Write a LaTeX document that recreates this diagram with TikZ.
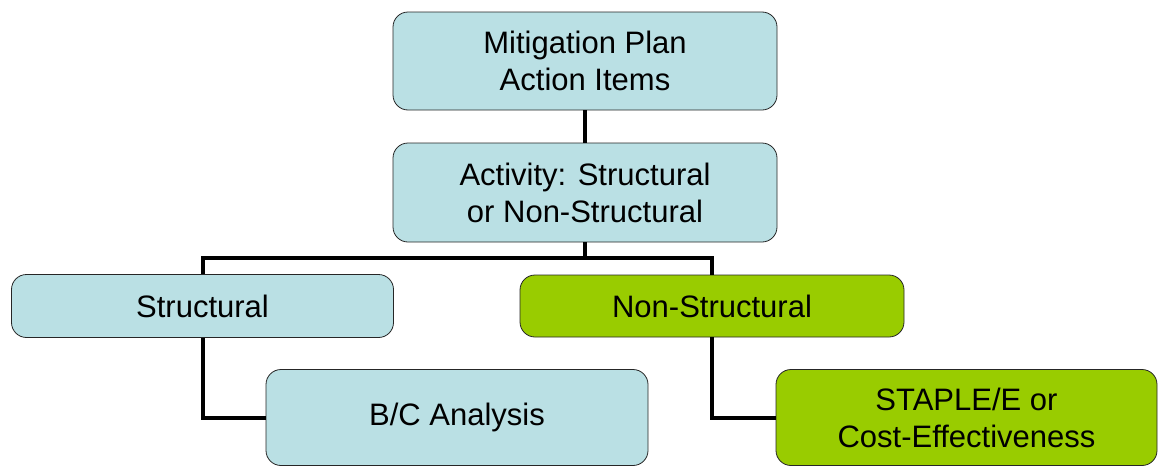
\documentclass[tikz,border=0pt]{standalone}
\usepackage{fontspec}
\setmainfont{Liberation Sans}
\usetikzlibrary{positioning}
\definecolor{boxblue}{RGB}{186,224,228}
\definecolor{boxgreen}{RGB}{153,204,0}
\begin{document}
\begin{tikzpicture}[
x=1pt,y=-1pt,
item/.style={
  draw=black!85,
  line width=0.8pt,
  rounded corners=15pt,
  fill=boxblue,
  align=center,
  inner sep=0pt,
  font=\fontsize{31}{37}\selectfont
},
greenitem/.style={
  item,
  fill=boxgreen
},
conn/.style={
  line width=4pt,
  black
}
]
\useasboundingbox (0,0) rectangle (1158,466);
\node[item,minimum width=384pt,minimum height=98pt] at (585,61)
  (plan) {Mitigation Plan\\Action Items};
\node[item,minimum width=384pt,minimum height=99pt] at (585,192.5)
  (activity) {Activity: Structural\\or Non-Structural};
\node[item,minimum width=382pt,minimum height=63pt] at (202.5,306)
  (struct) {Structural};
\node[greenitem,minimum width=384pt,minimum height=62pt] at (712,306)
  (nonstruct) {Non-Structural};
\node[item,minimum width=382pt,minimum height=96pt] at (457,417.5)
  (bc) {B/C Analysis};
\node[greenitem,minimum width=381pt,minimum height=96pt] at (966.5,417.5)
  (staple) {STAPLE/E or\\Cost-Effectiveness};
\coordinate (split) at (585,258);

\draw[conn] (plan.south) -- (activity.north);
\draw[conn] (activity.south) -- (split) -| (struct.north);
\draw[conn] (split) -| (nonstruct.north);
\draw[conn] (struct.south) |- (bc.west);
\draw[conn] (nonstruct.south) |- (staple.west);
\end{tikzpicture}
\end{document}
